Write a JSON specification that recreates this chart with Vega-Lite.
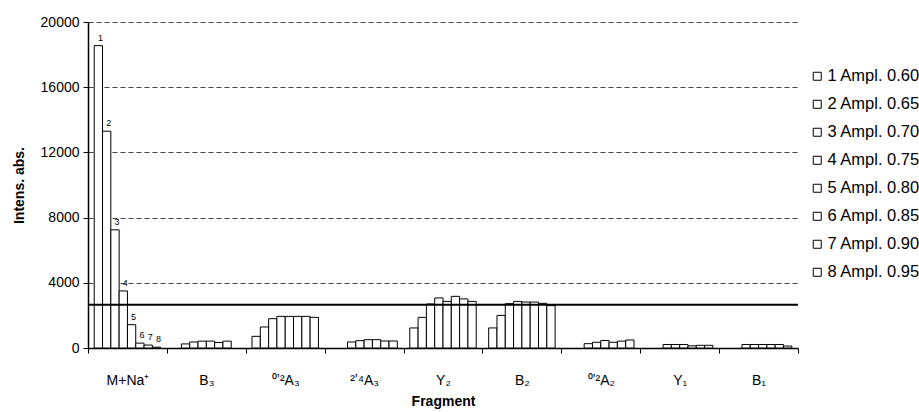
{
  "$schema": "https://vega.github.io/schema/vega-lite/v6.json",
  "width": 710,
  "height": 326,
  "autosize": {"type": "none"},
  "padding": {"left": 88, "top": 22, "right": 121, "bottom": 64},
  "background": "white",
  "config": {
    "view": {"stroke": null},
    "font": "Liberation Sans",
    "axis": {"labelFont": "Liberation Sans", "titleFont": "Liberation Sans", "labelColor": "#000", "titleColor": "#000", "domainColor": "#000", "tickColor": "#000"},
    "legend": {"labelFont": "Liberation Sans"}
  },
  "datasets": {
    "bars": [
      {"fragment": "M+Na⁺", "ampl": "1 Ampl. 0.60", "n": "1", "value": 18550},
      {"fragment": "M+Na⁺", "ampl": "2 Ampl. 0.65", "n": "2", "value": 13300},
      {"fragment": "M+Na⁺", "ampl": "3 Ampl. 0.70", "n": "3", "value": 7250},
      {"fragment": "M+Na⁺", "ampl": "4 Ampl. 0.75", "n": "4", "value": 3500},
      {"fragment": "M+Na⁺", "ampl": "5 Ampl. 0.80", "n": "5", "value": 1430},
      {"fragment": "M+Na⁺", "ampl": "6 Ampl. 0.85", "n": "6", "value": 300},
      {"fragment": "M+Na⁺", "ampl": "7 Ampl. 0.90", "n": "7", "value": 180},
      {"fragment": "M+Na⁺", "ampl": "8 Ampl. 0.95", "n": "8", "value": 50},
      {"fragment": "B₃", "ampl": "2 Ampl. 0.65", "n": "2", "value": 250},
      {"fragment": "B₃", "ampl": "3 Ampl. 0.70", "n": "3", "value": 370},
      {"fragment": "B₃", "ampl": "4 Ampl. 0.75", "n": "4", "value": 420},
      {"fragment": "B₃", "ampl": "5 Ampl. 0.80", "n": "5", "value": 420},
      {"fragment": "B₃", "ampl": "6 Ampl. 0.85", "n": "6", "value": 340},
      {"fragment": "B₃", "ampl": "7 Ampl. 0.90", "n": "7", "value": 420},
      {"fragment": "⁰ʼ²A₃", "ampl": "1 Ampl. 0.60", "n": "1", "value": 716},
      {"fragment": "⁰ʼ²A₃", "ampl": "2 Ampl. 0.65", "n": "2", "value": 1290},
      {"fragment": "⁰ʼ²A₃", "ampl": "3 Ampl. 0.70", "n": "3", "value": 1800},
      {"fragment": "⁰ʼ²A₃", "ampl": "4 Ampl. 0.75", "n": "4", "value": 1940},
      {"fragment": "⁰ʼ²A₃", "ampl": "5 Ampl. 0.80", "n": "5", "value": 1940},
      {"fragment": "⁰ʼ²A₃", "ampl": "6 Ampl. 0.85", "n": "6", "value": 1940},
      {"fragment": "⁰ʼ²A₃", "ampl": "7 Ampl. 0.90", "n": "7", "value": 1940},
      {"fragment": "⁰ʼ²A₃", "ampl": "8 Ampl. 0.95", "n": "8", "value": 1880},
      {"fragment": "²ʼ⁴A₃", "ampl": "3 Ampl. 0.70", "n": "3", "value": 370},
      {"fragment": "²ʼ⁴A₃", "ampl": "4 Ampl. 0.75", "n": "4", "value": 450},
      {"fragment": "²ʼ⁴A₃", "ampl": "5 Ampl. 0.80", "n": "5", "value": 510},
      {"fragment": "²ʼ⁴A₃", "ampl": "6 Ampl. 0.85", "n": "6", "value": 510},
      {"fragment": "²ʼ⁴A₃", "ampl": "7 Ampl. 0.90", "n": "7", "value": 430},
      {"fragment": "²ʼ⁴A₃", "ampl": "8 Ampl. 0.95", "n": "8", "value": 430},
      {"fragment": "Y₂", "ampl": "1 Ampl. 0.60", "n": "1", "value": 1230},
      {"fragment": "Y₂", "ampl": "2 Ampl. 0.65", "n": "2", "value": 1880},
      {"fragment": "Y₂", "ampl": "3 Ampl. 0.70", "n": "3", "value": 2700},
      {"fragment": "Y₂", "ampl": "4 Ampl. 0.75", "n": "4", "value": 3070},
      {"fragment": "Y₂", "ampl": "5 Ampl. 0.80", "n": "5", "value": 2860},
      {"fragment": "Y₂", "ampl": "6 Ampl. 0.85", "n": "6", "value": 3170},
      {"fragment": "Y₂", "ampl": "7 Ampl. 0.90", "n": "7", "value": 3010},
      {"fragment": "Y₂", "ampl": "8 Ampl. 0.95", "n": "8", "value": 2860},
      {"fragment": "B₂", "ampl": "1 Ampl. 0.60", "n": "1", "value": 1230},
      {"fragment": "B₂", "ampl": "2 Ampl. 0.65", "n": "2", "value": 2000},
      {"fragment": "B₂", "ampl": "3 Ampl. 0.70", "n": "3", "value": 2720},
      {"fragment": "B₂", "ampl": "4 Ampl. 0.75", "n": "4", "value": 2860},
      {"fragment": "B₂", "ampl": "5 Ampl. 0.80", "n": "5", "value": 2820},
      {"fragment": "B₂", "ampl": "6 Ampl. 0.85", "n": "6", "value": 2820},
      {"fragment": "B₂", "ampl": "7 Ampl. 0.90", "n": "7", "value": 2740},
      {"fragment": "B₂", "ampl": "8 Ampl. 0.95", "n": "8", "value": 2600},
      {"fragment": "⁰ʼ²A₂", "ampl": "3 Ampl. 0.70", "n": "3", "value": 265},
      {"fragment": "⁰ʼ²A₂", "ampl": "4 Ampl. 0.75", "n": "4", "value": 350},
      {"fragment": "⁰ʼ²A₂", "ampl": "5 Ampl. 0.80", "n": "5", "value": 460},
      {"fragment": "⁰ʼ²A₂", "ampl": "6 Ampl. 0.85", "n": "6", "value": 350},
      {"fragment": "⁰ʼ²A₂", "ampl": "7 Ampl. 0.90", "n": "7", "value": 420},
      {"fragment": "⁰ʼ²A₂", "ampl": "8 Ampl. 0.95", "n": "8", "value": 490},
      {"fragment": "Y₁", "ampl": "3 Ampl. 0.70", "n": "3", "value": 215},
      {"fragment": "Y₁", "ampl": "4 Ampl. 0.75", "n": "4", "value": 215},
      {"fragment": "Y₁", "ampl": "5 Ampl. 0.80", "n": "5", "value": 215},
      {"fragment": "Y₁", "ampl": "6 Ampl. 0.85", "n": "6", "value": 135},
      {"fragment": "Y₁", "ampl": "7 Ampl. 0.90", "n": "7", "value": 165},
      {"fragment": "Y₁", "ampl": "8 Ampl. 0.95", "n": "8", "value": 165},
      {"fragment": "B₁", "ampl": "3 Ampl. 0.70", "n": "3", "value": 215},
      {"fragment": "B₁", "ampl": "4 Ampl. 0.75", "n": "4", "value": 215},
      {"fragment": "B₁", "ampl": "5 Ampl. 0.80", "n": "5", "value": 215},
      {"fragment": "B₁", "ampl": "6 Ampl. 0.85", "n": "6", "value": 215},
      {"fragment": "B₁", "ampl": "7 Ampl. 0.90", "n": "7", "value": 215},
      {"fragment": "B₁", "ampl": "8 Ampl. 0.95", "n": "8", "value": 120}
    ],
    "threshold": [{"level": 2650}]
  },
  "layer": [
    {
      "data": {"name": "bars"},
      "mark": {"type": "bar", "stroke": "#000", "strokeWidth": 1, "strokeOpacity": 1},
      "encoding": {
        "x": {
          "field": "fragment", "type": "nominal",
          "sort": ["M+Na⁺", "B₃", "⁰ʼ²A₃", "²ʼ⁴A₃", "Y₂", "B₂", "⁰ʼ²A₂", "Y₁", "B₁"],
          "scale": {"paddingInner": 0, "paddingOuter": 0},
          "axis": {
            "title": "Fragment", "titleFontSize": 14, "titleFontWeight": "bold", "titlePadding": 7,
            "labelAngle": 0, "labelFontSize": 14, "labelPadding": 20,
            "tickBand": "extent", "tickSize": 5, "domainWidth": 1.5, "tickWidth": 1
          }
        },
        "xOffset": {
          "field": "ampl", "type": "nominal",
          "scale": {"paddingInner": 0, "paddingOuter": 0.75}
        },
        "y": {
          "field": "value", "type": "quantitative",
          "scale": {"domain": [0, 20000], "nice": false},
          "axis": {
            "title": "Intens. abs.", "titleFontSize": 14, "titleFontWeight": "bold", "titlePadding": 14,
            "values": [0, 4000, 8000, 12000, 16000, 20000], "format": "d",
            "labelFontSize": 14, "labelPadding": 4, "tickSize": 5, "domainWidth": 1.5,
            "grid": true, "gridColor": "#444", "gridDash": [5, 3], "gridWidth": 1
          }
        },
        "color": {
          "field": "ampl", "type": "nominal",
          "scale": {"range": ["#fff", "#fff", "#fff", "#fff", "#fff", "#fff", "#fff", "#fff"]},
          "legend": {
            "title": null, "orient": "none", "legendX": 721, "legendY": 46,
            "symbolType": "square", "symbolSize": 64, "symbolStrokeColor": "#000", "symbolStrokeWidth": 1,
            "symbolFillColor": "#fff",
            "labelFontSize": 16.5, "labelColor": "#000", "labelOffset": 2, "rowPadding": 11
          }
        }
      }
    },
    {
      "data": {"name": "bars"},
      "transform": [{"filter": "datum.fragment === 'M+Na⁺'"}],
      "mark": {"type": "text", "baseline": "bottom", "dy": -3, "dx": 2, "fontSize": 9, "font": "Liberation Sans", "color": "#000"},
      "encoding": {
        "x": {"field": "fragment", "type": "nominal", "sort": ["M+Na⁺", "B₃", "⁰ʼ²A₃", "²ʼ⁴A₃", "Y₂", "B₂", "⁰ʼ²A₂", "Y₁", "B₁"]},
        "xOffset": {"field": "ampl", "type": "nominal"},
        "y": {"field": "value", "type": "quantitative"},
        "text": {"field": "n"}
      }
    },
    {
      "data": {"name": "threshold"},
      "mark": {"type": "rule", "color": "#000", "strokeWidth": 2},
      "encoding": {"y": {"field": "level", "type": "quantitative"}}
    }
  ]
}
